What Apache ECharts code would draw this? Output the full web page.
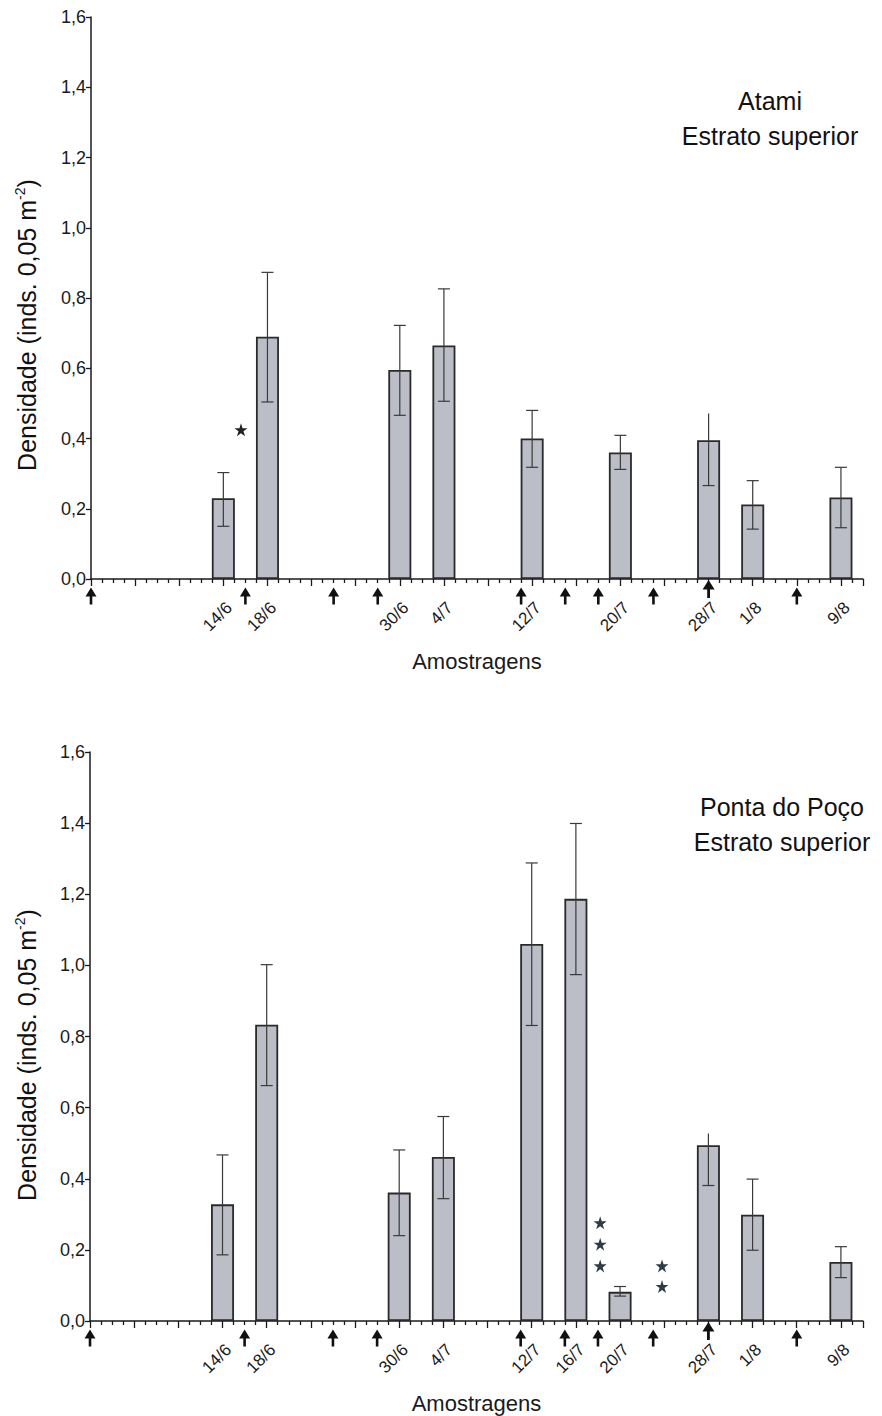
<!DOCTYPE html>
<html>
<head>
<meta charset="utf-8">
<script src="https://cdn.jsdelivr.net/npm/echarts@6/dist/echarts.min.js"></script>
<style>
  html, body { margin: 0; padding: 0; background: #fff; }
  #chart { width: 882px; height: 1416px; }
</style>
</head>
<body>
<div id="chart"></div>
<script>
// Sampling dates, counted in days from 2 June (day 0)
const sampleLabels = ['14/6', '18/6', '30/6', '4/7', '12/7', '16/7', '20/7', '28/7', '1/8', '9/8'];
const sampleDays   = [12, 16, 28, 32, 40, 44, 48, 56, 60, 68];

// Atami, upper stratum: mean density and error range
const atamiMean = [0.230, 0.690, 0.595, 0.665, 0.400, null, 0.360, 0.395, 0.212, 0.232];
const atamiLow  = [0.150, 0.504, 0.466, 0.506, 0.318, null, 0.312, 0.266, 0.142, 0.146];
const atamiHigh = [0.303, 0.873, 0.722, 0.826, 0.480, null, 0.409, 0.471, 0.280, 0.318];
const atamiTopCap = [1, 1, 1, 1, 1, 0, 1, 0, 1, 1];

// Ponta do Poço, upper stratum
const pontaMean = [0.328, 0.833, 0.361, 0.461, 1.060, 1.187, 0.082, 0.494, 0.299, 0.166];
const pontaLow  = [0.186, 0.662, 0.240, 0.344, 0.831, 0.974, 0.070, 0.381, 0.199, 0.122];
const pontaHigh = [0.467, 1.002, 0.481, 0.575, 1.288, 1.399, 0.097, 0.527, 0.399, 0.209];
const pontaTopCap = [1, 1, 1, 1, 1, 1, 1, 0, 1, 1];

// Event markers (arrows under the axis), in days from 2 June
const arrowDays = [0, 14, 22, 26, 39, 43, 46, 51, 64];
const bigArrowDays = [56];

// Significance stars: [day, density]
const atamiStars = [[13.6, 0.425]];
const pontaStars = [[46.2, 0.276], [46.2, 0.216], [46.2, 0.155], [51.8, 0.155], [51.8, 0.097]];

const yTicks = { min: 0, max: 1.6, interval: 0.2 };
const xRange = { min: 0, max: 70 };

const FONT = 'Liberation Sans, Arial, Helvetica, sans-serif';
const ARROW = 'path://M5.5,0 L11,9 L6.8,9 L6.8,17 L4.2,17 L4.2,9 L0,9 Z';
const STAR = 'path://M50,0 L61.8,36.2 L100,36.2 L69.1,58.8 L80.9,95.1 L50,72.7 L19.1,95.1 L30.9,58.8 L0,36.2 L38.2,36.2 Z';

const grids = [
  { left: 91, right: 19, top: 17, height: 562 },
  { left: 90, right: 19, top: 752, height: 569 }
];

function xAxisFor(idx, mean) {
  const shown = {};
  sampleDays.forEach((d, i) => { if (mean[i] != null) shown[d] = sampleLabels[i]; });
  return {
    type: 'value', gridIndex: idx, min: xRange.min, max: xRange.max, interval: 4,
    name: 'Amostragens', nameLocation: 'middle', nameGap: 71,
    nameTextStyle: { fontFamily: FONT, fontSize: 22, color: '#1a1a1a' },
    axisLine: { show: true, onZero: false, lineStyle: { color: '#1a1a1a', width: 1.5 } },
    axisTick: { show: true, length: 7, lineStyle: { color: '#1a1a1a', width: 1.3 } },
    minorTick: { show: true, splitNumber: 4, length: 4, lineStyle: { color: '#1a1a1a', width: 1.3 } },
    splitLine: { show: false },
    axisLabel: {
      rotate: 45, margin: 20, verticalAlign: 'top',
      fontFamily: FONT, fontSize: 17, color: '#1a1a1a',
      formatter: v => shown[v] || ''
    }
  };
}

function yAxisFor(idx) {
  return {
    type: 'value', gridIndex: idx, min: yTicks.min, max: yTicks.max, interval: yTicks.interval,
    axisLine: { show: true, lineStyle: { color: '#1a1a1a', width: 1.5 } },
    axisTick: { show: true, length: 5, lineStyle: { color: '#1a1a1a', width: 1.3 } },
    splitLine: { show: false },
    axisLabel: {
      margin: 5, fontFamily: FONT, fontSize: 18, color: '#1a1a1a',
      formatter: v => v.toFixed(1).replace('.', ',')
    }
  };
}

function barSeries(idx, mean) {
  return {
    type: 'bar', xAxisIndex: idx, yAxisIndex: idx, barWidth: 23, z: 2,
    itemStyle: { color: '#bbbec6', borderColor: '#2a2a2a', borderWidth: 1.8 },
    data: sampleDays.map((d, i) => mean[i] == null ? null : [d, mean[i]]).filter(Boolean)
  };
}

function errorSeries(idx, low, high, cap) {
  return {
    type: 'custom', xAxisIndex: idx, yAxisIndex: idx, z: 3,
    data: sampleDays.map((d, i) => low[i] == null ? null : [d, low[i], high[i], cap[i]]).filter(Boolean),
    renderItem: function (params, api) {
      const pLo = api.coord([api.value(0), api.value(1)]);
      const pHi = api.coord([api.value(0), api.value(2)]);
      const hw = 6;
      const style = { stroke: '#3a3a3a', lineWidth: 1.2 };
      const children = [
        { type: 'line', shape: { x1: pLo[0], y1: pLo[1], x2: pHi[0], y2: pHi[1] }, style },
        { type: 'line', shape: { x1: pLo[0] - hw, y1: pLo[1], x2: pLo[0] + hw, y2: pLo[1] }, style }
      ];
      if (api.value(3)) {
        children.push({ type: 'line', shape: { x1: pHi[0] - hw, y1: pHi[1], x2: pHi[0] + hw, y2: pHi[1] }, style });
      }
      return { type: 'group', children };
    }
  };
}

function arrowSeries(idx) {
  return [
    {
      type: 'scatter', xAxisIndex: idx, yAxisIndex: idx, clip: false, z: 5,
      symbol: ARROW, symbolSize: [11, 17], symbolOffset: [0, 17],
      itemStyle: { color: '#111', opacity: 1 }, silent: true,
      data: arrowDays.map(d => [d, 0])
    },
    {
      type: 'scatter', xAxisIndex: idx, yAxisIndex: idx, clip: false, z: 5,
      symbol: ARROW, symbolSize: [12, 18], symbolOffset: [0, 10],
      itemStyle: { color: '#111', opacity: 1 }, silent: true,
      data: bigArrowDays.map(d => [d, 0])
    }
  ];
}

function starSeries(idx, pts, color) {
  return {
    type: 'scatter', xAxisIndex: idx, yAxisIndex: idx, clip: false, z: 5,
    symbol: STAR, symbolSize: 13, itemStyle: { color, opacity: 1 }, silent: true,
    data: pts
  };
}

function yName(x, y, txt) {
  return {
    type: 'text', x, y, rotation: Math.PI / 2,
    style: {
      text: '{a|' + txt + '}{s|-2}{a|)}',
      align: 'center', verticalAlign: 'middle', fill: '#111',
      rich: {
        a: { fontFamily: FONT, fontSize: 25, lineHeight: 28, fill: '#111' },
        s: { fontFamily: FONT, fontSize: 14, lineHeight: 14, verticalAlign: 'top', fill: '#111' }
      }
    }
  };
}

function siteLabel(x, y, lines) {
  return {
    type: 'text', x, y,
    style: {
      text: lines.join('\n'), align: 'center', verticalAlign: 'middle',
      fontFamily: FONT, fontSize: 25, lineHeight: 35, fill: '#111'
    }
  };
}

const chart = echarts.init(document.getElementById('chart'), null, { renderer: 'svg' });
chart.setOption({
  animation: false,
  backgroundColor: '#fff',
  grid: grids,
  xAxis: [xAxisFor(0, atamiMean), xAxisFor(1, pontaMean)],
  yAxis: [yAxisFor(0), yAxisFor(1)],
  series: [
    barSeries(0, atamiMean), errorSeries(0, atamiLow, atamiHigh, atamiTopCap),
    ...arrowSeries(0), starSeries(0, atamiStars, '#222'),
    barSeries(1, pontaMean), errorSeries(1, pontaLow, pontaHigh, pontaTopCap),
    ...arrowSeries(1), starSeries(1, pontaStars, '#2e3c45')
  ],
  graphic: [
    yName(27, 325, 'Densidade (inds. 0,05 m'),
    yName(27, 1055, 'Densidade (inds. 0,05 m'),
    siteLabel(770, 118, ['Atami', 'Estrato superior']),
    siteLabel(782, 824, ['Ponta do Poço', 'Estrato superior'])
  ]
});
</script>
</body>
</html>
